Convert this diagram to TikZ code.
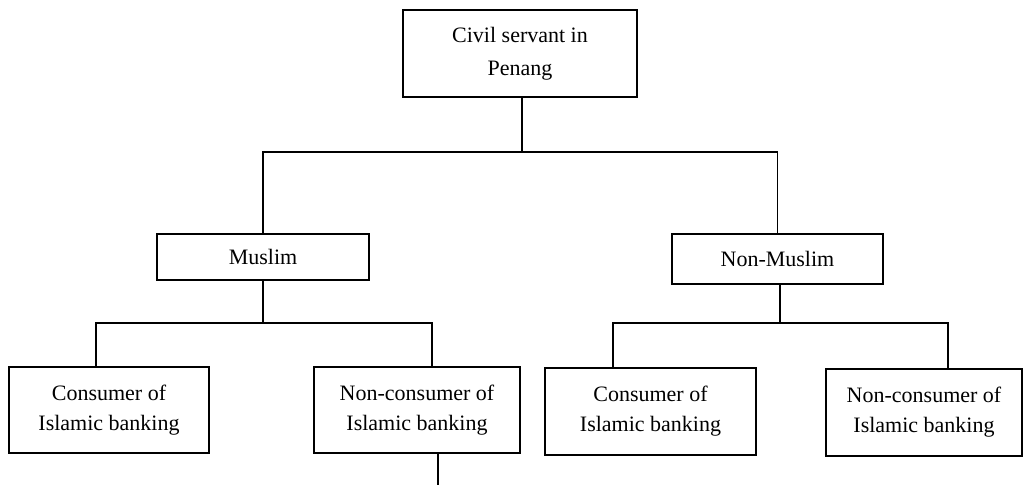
\documentclass[tikz,border=0pt]{standalone}
\usepackage{fontspec}
\setmainfont{Liberation Serif}
\usepackage{tikz}
\usetikzlibrary{positioning,calc}

\begin{document}
\begin{tikzpicture}[x=0.5pt, y=-0.5pt, line width=0.6pt,
    box/.style={draw, rectangle, inner sep=0pt, align=center,
        font=\fontsize{11pt}{15pt}\selectfont}]
    \useasboundingbox (0,0) rectangle (1023,485);

    % Level 0: root
    \node[box, minimum width=117pt, minimum height=43.5pt,
        font=\fontsize{11pt}{16.5pt}\selectfont] (civil) at (520,53.5) {Civil servant in\\Penang};

    % Level 1: religion
    \node[box, minimum width=106pt, minimum height=23pt] (muslim) at (263,257) {Muslim};
    \node[box, minimum width=105.5pt, minimum height=25pt] (nonmuslim) at (777.5,259) {Non-Muslim};

    % Level 2: banking
    \node[box, minimum width=100pt, minimum height=43pt] (consM) at (109,410) {Consumer of\\Islamic banking};
    \node[box, minimum width=103pt, minimum height=43pt] (nonconsM) at (417,410) {Non-consumer of\\Islamic banking};
    \node[box, minimum width=105.5pt, minimum height=43.5pt] (consN) at (650.5,411.5) {Consumer of\\Islamic banking};
    \node[box, minimum width=98pt, minimum height=43.5pt] (nonconsN) at (924,412.5) {Non-consumer of\\Islamic banking};

    % root to groups
    \coordinate (split) at (522,152);
    \draw (split |- civil.south) -- (split);
    \draw (muslim.north) |- (split) -| (nonmuslim.north);

    % Muslim branch
    \coordinate (splitM) at (263,323);
    \coordinate (legM1) at (96,323);
    \coordinate (legM2) at (432,323);
    \draw (splitM |- muslim.south) -- (splitM);
    \draw (legM1 |- consM.north) -- (legM1) -- (legM2) -- (legM2 |- nonconsM.north);

    % Non-Muslim branch
    \coordinate (splitN) at (780,323);
    \coordinate (legN1) at (613,323);
    \coordinate (legN2) at (948,323);
    \draw (splitN |- nonmuslim.south) -- (splitN);
    \draw (legN1 |- consN.north) -- (legN1) -- (legN2) -- (legN2 |- nonconsN.north);

    % loose end below
    \coordinate (tail) at (438,485);
    \draw (tail |- nonconsM.south) -- (tail);
\end{tikzpicture}
\end{document}
